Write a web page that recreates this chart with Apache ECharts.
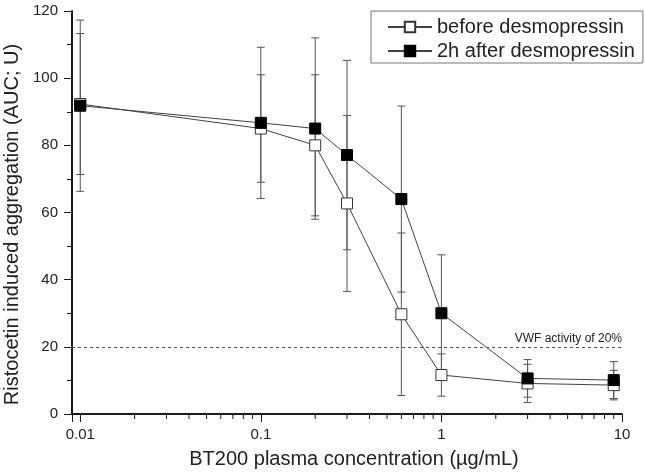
<!DOCTYPE html>
<html><head><meta charset="utf-8">
<script src="https://cdn.jsdelivr.net/npm/echarts@6/dist/echarts.min.js"></script>
<style>html,body{margin:0;padding:0;background:#fff}#c{width:645px;height:475px}</style>
</head><body><div id="c"></div>
<script>
const concentrations = [0.01, 0.1, 0.2, 0.3, 0.6, 1, 3, 9];
const beforeValues = [92.3, 85, 80, 62.7, 29.7, 11.6, 9.1, 8.6];
const beforeErrors = [21, 16, 21, 26.2, 24.2, 6.3, 5.7, 4.4];
const afterValues = [91.8, 86.7, 85, 77.1, 64, 30, 10.6, 10.1];
const afterErrors = [25.5, 22.5, 27, 28.2, 27.7, 17.4, 5.6, 5.5];
const xMinorTicks = [0.02,0.03,0.04,0.05,0.06,0.07,0.08,0.09,0.2,0.3,0.4,0.5,0.6,0.7,0.8,0.9,2,3,4,5,6,7,8,9];
const thresholdValue = 20;
const thresholdLabel = 'VWF activity of 20%';
const seriesNames = ['before desmopressin', '2h after desmopressin'];

const FONT = 'Liberation Sans, Arial, sans-serif';
const TXT = '#222';
const AX = '#1a1a1a';

function pts(vals){ return concentrations.map((x,i)=>[x, vals[i]]); }
function errs(vals, e){ return concentrations.map((x,i)=>[x, vals[i]-e[i], vals[i]+e[i]]); }

function errorRender(params, api){
  const x = api.value(0), lo = api.value(1), hi = api.value(2);
  const t = api.coord([x, hi]), b = api.coord([x, lo]);
  const w = 4;
  const st = {stroke:'#555', lineWidth:1};
  return {type:'group', children:[
    {type:'line', shape:{x1:t[0],y1:t[1],x2:b[0],y2:b[1]}, style:st},
    {type:'line', shape:{x1:t[0]-w,y1:t[1],x2:t[0]+w,y2:t[1]}, style:st},
    {type:'line', shape:{x1:b[0]-w,y1:b[1],x2:b[0]+w,y2:b[1]}, style:st}
  ]};
}
function minorTickRender(params, api){
  const p = api.coord([api.value(0), 0]);
  return {type:'line', shape:{x1:p[0],y1:p[1],x2:p[0],y2:p[1]+5}, style:{stroke:AX, lineWidth:1}};
}

const chart = echarts.init(document.getElementById('c'));
chart.setOption({
  animation:false,
  backgroundColor:'#fff',
  grid:{left:72, right:23, top:11, bottom:61, containLabel:false, outerBoundsMode:'none'},
  legend:{
    data:seriesNames, orient:'vertical', left:371, top:11,
    borderColor:'#777', borderWidth:1, borderRadius:0,
    padding:[6,8,2,16], itemGap:4, itemWidth:44, itemHeight:13,
    textStyle:{fontSize:20, color:TXT, fontFamily:FONT}
  },
  xAxis:{
    type:'log', min:0.009, max:10,
    name:'BT200 plasma concentration (µg/mL)', nameLocation:'middle', nameGap:35,
    nameTextStyle:{fontSize:20, color:TXT, fontFamily:FONT, padding:[0,0,0,14]},
    axisLine:{show:true, onZero:false, lineStyle:{color:AX, width:2}},
    axisTick:{show:true, length:8, lineStyle:{color:AX, width:1}},
    axisLabel:{fontSize:15, color:TXT, fontFamily:FONT, margin:13,
      formatter:function(v){ const l=Math.log10(v); if(Math.abs(l-Math.round(l))>1e-6) return ''; return String(+v.toPrecision(6)); }},
    splitLine:{show:false}
  },
  yAxis:{
    type:'value', min:0, max:120, interval:20,
    name:'Ristocetin induced aggregation (AUC; U)', nameLocation:'middle', nameGap:44,
    nameTextStyle:{fontSize:20, color:TXT, fontFamily:FONT, padding:[0,24,0,0]},
    axisLine:{show:true, onZero:false, lineStyle:{color:AX, width:2}},
    axisTick:{show:true, length:8, lineStyle:{color:AX, width:1}},
    minorTick:{show:true, splitNumber:2, length:5, lineStyle:{color:AX, width:1}},
    axisLabel:{fontSize:15, color:TXT, fontFamily:FONT, margin:14},
    splitLine:{show:false}
  },
  series:[
    {type:'custom', name:'minor', data:xMinorTicks.map(v=>[v,0]), renderItem:minorTickRender, clip:false, silent:true, z:5},
    {type:'custom', name:'errBefore', data:errs(beforeValues, beforeErrors), encode:{x:0,y:[1,2]}, renderItem:errorRender, silent:true, z:1},
    {type:'custom', name:'errAfter', data:errs(afterValues, afterErrors), encode:{x:0,y:[1,2]}, renderItem:errorRender, silent:true, z:1},
    {type:'line', name:seriesNames[0], data:pts(beforeValues), symbol:'rect', symbolSize:11,
      itemStyle:{color:'#fff', borderColor:'#333', borderWidth:1},
      lineStyle:{color:'#444', width:1}, z:3,
      markLine:{silent:true, symbol:'none', data:[{yAxis:thresholdValue}],
        lineStyle:{type:[3,3], color:'#555', width:1},
        label:{show:true, position:'insideEndTop', formatter:thresholdLabel, fontSize:12, color:TXT, fontFamily:FONT, distance:[0,2]}}},
    {type:'line', name:seriesNames[1], data:pts(afterValues), symbol:'rect', symbolSize:11,
      itemStyle:{color:'#000', borderColor:'#000', borderWidth:1},
      lineStyle:{color:'#444', width:1}, z:4}
  ]
});
</script></body></html>
